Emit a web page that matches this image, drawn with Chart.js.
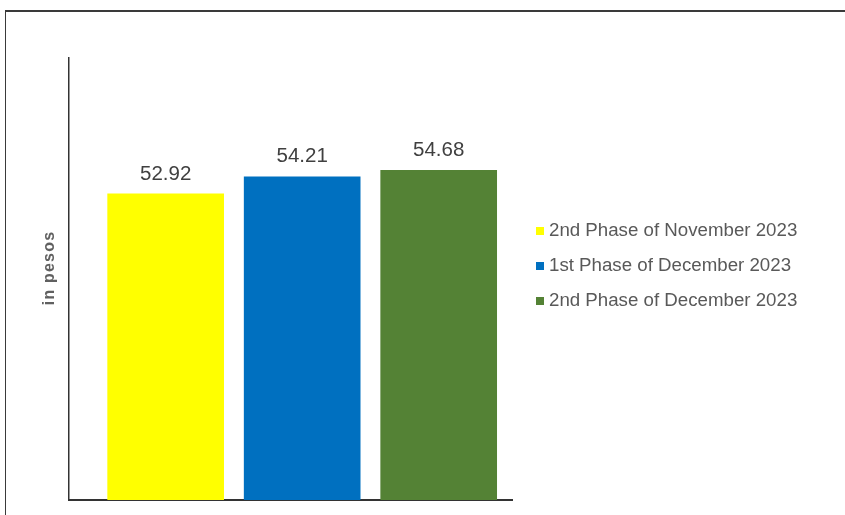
<!DOCTYPE html>
<html>
<head>
<meta charset="utf-8">
<script src="https://cdn.jsdelivr.net/npm/chart.js@4.4.0/dist/chart.umd.min.js"></script>
<style>
  body { margin: 0; background: #ffffff; }
  #wrap { position: relative; width: 845px; height: 515px; overflow: hidden; }
  #frame { position: absolute; left: 5px; top: 10px; width: 900px; height: 600px;
           border-top: 2px solid #3a3a3a; border-left: 1px solid #3a3a3a; }
  #priceChart { position: absolute; left: 0; top: 0; }
  .legendItem { position: absolute; left: 536px; height: 20px; line-height: 20px;
                font-family: "Liberation Sans", Arial, sans-serif; font-size: 18.7px;
                color: #595959; white-space: nowrap; }
  .legendBox { display: inline-block; width: 8px; height: 8px; margin-right: 5px; vertical-align: 1px; }
</style>
</head>
<body>
<div id="wrap">
  <div id="frame"></div>
  <canvas id="priceChart" width="845" height="515"></canvas>
  <div id="legend"></div>
</div>
<script>
// chart values
const phaseLabels = ["2nd Phase of November 2023", "1st Phase of December 2023", "2nd Phase of December 2023"];
const priceValues = [52.92, 54.21, 54.68];
const barColors = ["#FFFF00", "#0070C0", "#548235"];
const yTitle = "in pesos";

// value above each bar + rotated axis title
const barLabelPlugin = {
  id: "barLabels",
  afterDatasetsDraw(chart) {
    const ctx = chart.ctx;
    const meta = chart.getDatasetMeta(0);
    ctx.save();
    ctx.font = "20.5px 'Liberation Sans', Arial, sans-serif";
    ctx.fillStyle = "#404040";
    ctx.textAlign = "center";
    ctx.textBaseline = "middle";
    meta.data.forEach(function(bar, i) {
      ctx.fillText(priceValues[i].toFixed(2), bar.x, bar.y - 20);
    });
    ctx.restore();

    ctx.save();
    ctx.translate(chart.chartArea.left - 19, 268);
    ctx.rotate(-Math.PI / 2);
    ctx.font = "bold 16px 'Liberation Sans', Arial, sans-serif";
    ctx.letterSpacing = "1.2px";
    ctx.fillStyle = "#606060";
    ctx.textAlign = "center";
    ctx.textBaseline = "middle";
    ctx.fillText(yTitle, 0, 0);
    ctx.restore();
  }
};

function makeLegend() {
  const legend = document.getElementById("legend");
  const rowCenters = [230, 265, 300];
  phaseLabels.forEach(function(label, i) {
    const item = document.createElement("div");
    item.className = "legendItem";
    item.style.top = (rowCenters[i] - 10) + "px";
    item.innerHTML = '<span class="legendBox" style="background:' + barColors[i] + '"></span>' + label;
    legend.appendChild(item);
  });
}

function makePriceChart() {
  const priceChartData = {
    datasets: [
      {
        label: "Price",
        data: priceValues.map(function(v, i) { return {x: i, y: v}; }),
        backgroundColor: barColors,
        borderWidth: 0,
        barThickness: 116,
      },
    ],
  };

  const priceChartConfig = {
    type: "bar",
    data: priceChartData,
    options: {
      responsive: false,
      animation: false,
      layout: {
        padding: {left: 69, top: 58, right: 333, bottom: 15}
      },
      plugins: {
        legend: {display: false},
        tooltip: {enabled: false},
      },
      scales: {
        x: {
          type: "linear",
          offset: false,
          min: -0.708,
          max: 2.537,
          grid: {display: false, drawTicks: false},
          ticks: {display: false},
          border: {display: true, color: "#333333", width: 2},
        },
        y: {
          min: 30,
          max: 63.1,
          grid: {display: false, drawTicks: false},
          ticks: {display: false},
          border: {display: true, color: "#333333", width: 1.5},
        }
      }
    },
    plugins: [barLabelPlugin]
  };

  new Chart(document.getElementById("priceChart"), priceChartConfig);
}

makeLegend();
makePriceChart();
</script>
</body>
</html>
